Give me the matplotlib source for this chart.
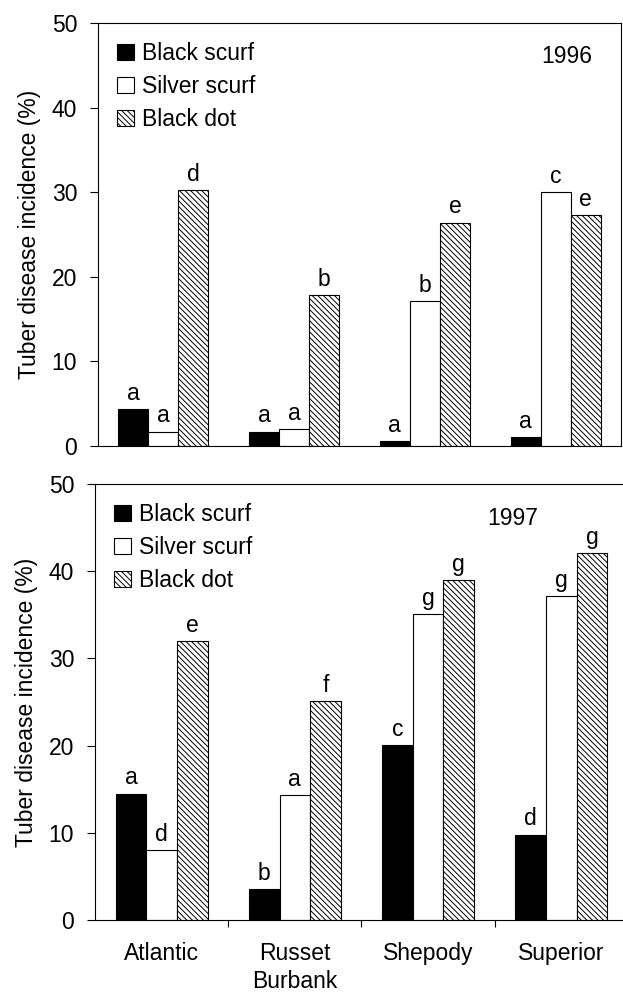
import matplotlib
matplotlib.use("Agg")
import matplotlib.pyplot as plt
import numpy as np
from matplotlib.patches import Patch

plt.rcParams["font.family"] = ["Liberation Sans", "DejaVu Sans"]
plt.rcParams["hatch.linewidth"] = 0.7

cultivars = ["Atlantic", "Russet\nBurbank", "Shepody", "Superior"]
diseases = ["Black scurf", "Silver scurf", "Black dot"]

# 1996
bs_96 = [4.4, 1.7, 0.6, 1.1]
ss_96 = [1.7, 2.0, 17.1, 30.0]
bd_96 = [30.3, 17.8, 26.4, 27.3]
let_96 = [["a", "a", "a", "a"], ["a", "a", "b", "c"], ["d", "b", "e", "e"]]

# 1997
bs_97 = [14.5, 3.5, 20.1, 9.8]
ss_97 = [8.0, 14.3, 35.1, 37.1]
bd_97 = [32.0, 25.1, 39.0, 42.1]
let_97 = [["a", "b", "c", "d"], ["d", "a", "g", "g"], ["e", "f", "g", "g"]]

FS = 16.5
styles = [dict(color="black"), dict(color="white"),
          dict(color="white", hatch="\\\\\\\\\\\\")]

fig = plt.figure(figsize=(6.23, 9.92), dpi=100)
ax_top = fig.add_axes([0.1573, 0.5504, 0.8395, 0.4264])
ax_bot = fig.add_axes([0.1525, 0.0726, 0.8555, 0.4395])

x = np.arange(len(cultivars)) + 0.5
w = 0.23


def draw(ax, series, letters, year, year_xy, tick_bounds):
    for k, (vals, st) in enumerate(zip(series, styles)):
        bars = ax.bar(x + (k - 1) * w, vals, width=w, edgecolor="black",
                      linewidth=0.8, **st)
        for b, lab in zip(bars, letters[k]):
            ax.annotate(lab, (b.get_x() + b.get_width() / 2, b.get_height()),
                        xytext=(0, 3), textcoords="offset points",
                        ha="center", va="bottom", fontsize=FS)
    ax.set_xlim(0, 4)
    ax.set_ylim(0, 50)
    ax.set_yticks(range(0, 51, 10))
    ax.tick_params(axis="y", direction="out", length=6, pad=9,
                   labelsize=FS, width=0.8)
    ax.set_ylabel("Tuber disease incidence (%)", fontsize=FS, labelpad=8)
    if tick_bounds:
        ax.set_xticks([1, 2, 3])
        ax.set_xticklabels([])
        ax.set_xticks(x, minor=True)
        ax.set_xticklabels(cultivars, minor=True, fontsize=FS, linespacing=1.25)
        ax.tick_params(axis="x", which="major", direction="out", length=5, width=0.8)
        ax.tick_params(axis="x", which="minor", length=0, pad=16)
    else:
        ax.set_xticks([])
    for sp in ax.spines.values():
        sp.set_linewidth(0.8)
    ax.text(year_xy[0], year_xy[1], year, transform=ax.transAxes,
            ha="center", va="center", fontsize=FS)
    handles = [Patch(facecolor=st["color"], edgecolor="black", linewidth=0.8,
                     hatch=st.get("hatch")) for st in styles]
    ax.legend(handles, diseases, loc="upper left", bbox_to_anchor=(0.0, 1.0),
              frameon=False, fontsize=FS, handlelength=0.7, handleheight=0.7,
              handletextpad=0.35, labelspacing=0.42, borderaxespad=0.55,
              borderpad=0.3)


draw(ax_top, [bs_96, ss_96, bd_96], let_96, "1996", (0.897, 0.92), False)
draw(ax_bot, [bs_97, ss_97, bd_97], let_97, "1997", (0.784, 0.921), True)

fig.savefig("out.png", dpi=100)
